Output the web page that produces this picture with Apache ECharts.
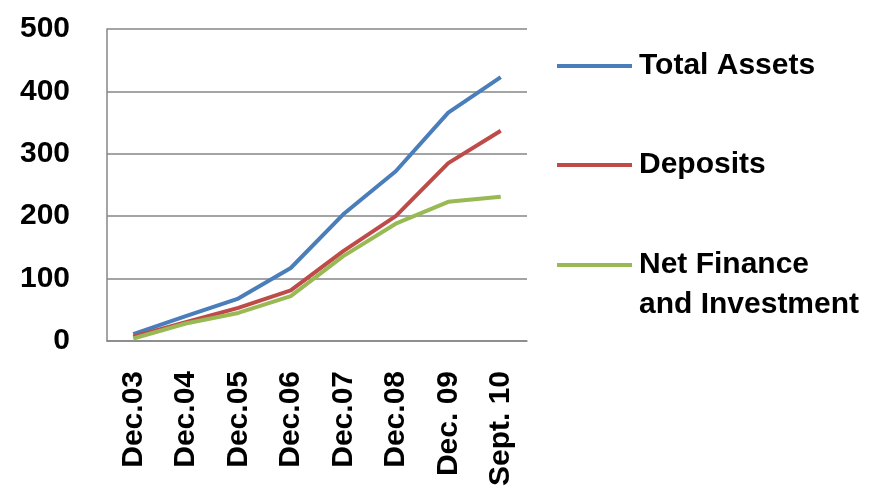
<!DOCTYPE html>
<html>
<head>
<meta charset="utf-8">
<script src="https://cdn.jsdelivr.net/npm/echarts@6/dist/echarts.min.js"></script>
<style>
html,body{margin:0;padding:0;background:#fff;}
#chart{width:878px;height:490px;}
</style>
</head>
<body>
<div id="chart"></div>
<script>
var categories = ['Dec.03', 'Dec.04', 'Dec.05', 'Dec.06', 'Dec.07', 'Dec.08', 'Dec. 09', 'Sept. 10'];
var totalAssets = [11, 40, 68, 117, 203, 272, 366, 423];
var deposits = [7, 30, 53, 81, 144, 200, 285, 337];
var netFinance = [4, 28, 45, 72, 136, 188, 223, 231];
var yTicks = [0, 100, 200, 300, 400, 500];

var FONT = 'Liberation Sans';
var chart = echarts.init(document.getElementById('chart'), null, {renderer: 'canvas'});

function legendCfg(name, top, extra) {
  var cfg = {
    data: [name],
    left: 557,
    top: top,
    padding: 0,
    icon: 'rect',
    itemWidth: 75,
    itemHeight: 4,
    selectedMode: false,
    textStyle: {
      fontFamily: FONT,
      fontSize: 30,
      fontWeight: 'bold',
      color: '#000',
      lineHeight: 36,
      padding: [0, 0, 0, 2]
    }
  };
  if (extra) { extra(cfg); }
  return cfg;
}

var option = {
  animation: false,
  backgroundColor: '#fff',
  grid: {left: 107, right: 351, top: 29, bottom: 149, containLabel: false},
  legend: [
    legendCfg('Total Assets', 48),
    legendCfg('Deposits', 147),
    legendCfg('Net Finance and Investment', 205, function (c) {
      c.formatter = function () { return ' \nNet Finance\nand Investment'; };
      c.textStyle.lineHeight = 40;
    })
  ],
  xAxis: {
    type: 'category',
    data: categories,
    boundaryGap: true,
    axisLine: {show: true, lineStyle: {color: '#868686', width: 1.5}},
    axisTick: {show: false},
    axisLabel: {
      rotate: 90,
      margin: 30,
      interval: 0,
      fontFamily: FONT,
      fontSize: 30,
      fontWeight: 'bold',
      color: '#000'
    },
    splitLine: {show: false}
  },
  yAxis: {
    type: 'value',
    min: yTicks[0],
    max: yTicks[yTicks.length - 1],
    interval: 100,
    axisLine: {show: true, lineStyle: {color: '#868686', width: 1.5}},
    axisTick: {show: false},
    axisLabel: {
      margin: 37,
      fontFamily: FONT,
      fontSize: 30,
      fontWeight: 'bold',
      color: '#000'
    },
    splitLine: {show: true, lineStyle: {color: '#868686', width: 1.5}}
  },
  series: [
    {name: 'Total Assets', type: 'line', data: totalAssets, symbol: 'none',
     color: '#4A7EBB', lineStyle: {width: 4, color: '#4A7EBB'}},
    {name: 'Deposits', type: 'line', data: deposits, symbol: 'none',
     color: '#BE4B48', lineStyle: {width: 4, color: '#BE4B48'}},
    {name: 'Net Finance and Investment', type: 'line', data: netFinance, symbol: 'none',
     color: '#98B954', lineStyle: {width: 4, color: '#98B954'}}
  ]
};
chart.setOption(option);
</script>
</body>
</html>
